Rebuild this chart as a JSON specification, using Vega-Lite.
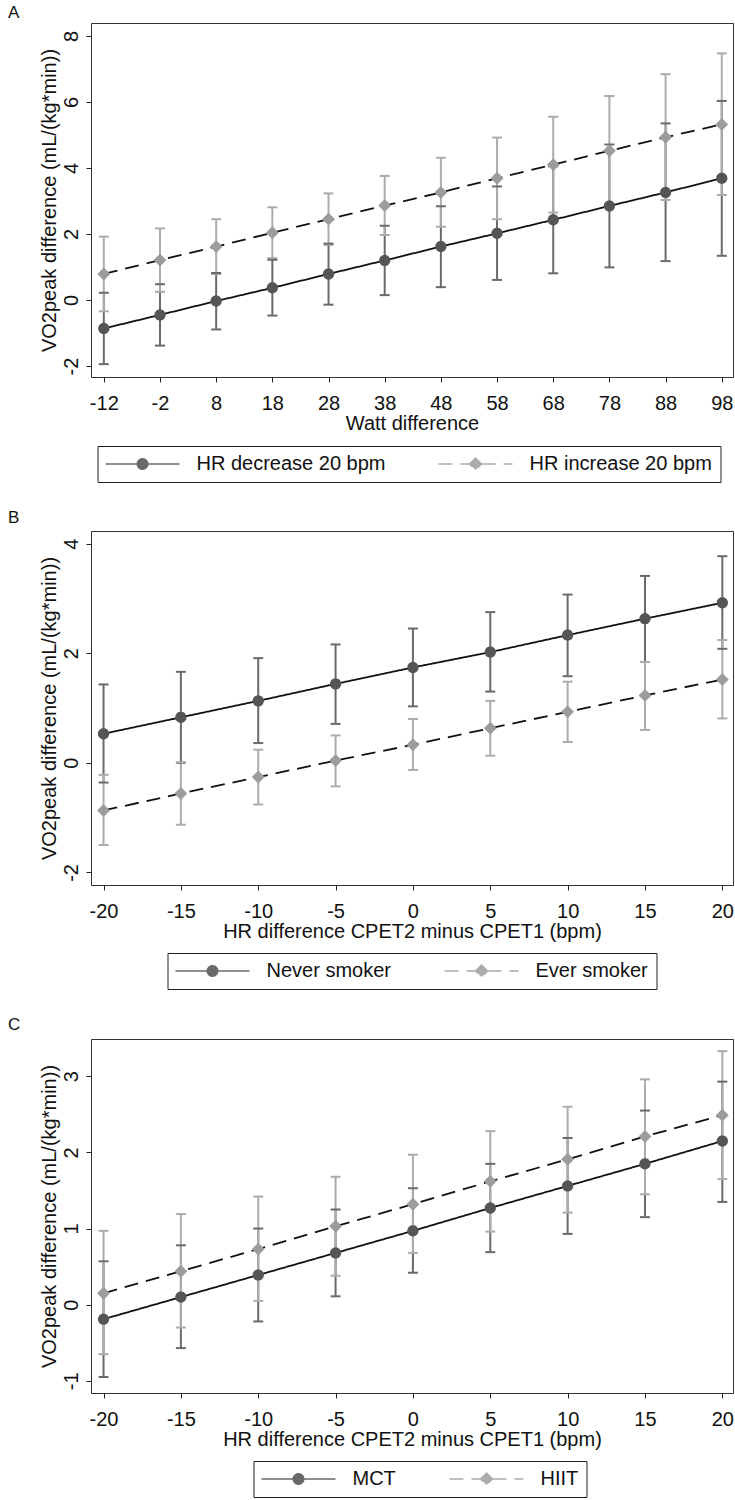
{
  "$schema": "https://vega.github.io/schema/vega-lite/v6.json",
  "background": "white",
  "padding": {"left": 7, "top": 3, "right": 0, "bottom": 0},
  "spacing": 25,
  "resolve": {"scale": {"color": "independent", "fill": "independent", "shape": "independent", "strokeDash": "independent"}, "legend": {"strokeDash": "independent", "color": "independent", "fill": "independent", "shape": "independent"}},
  "datasets": {
    "a": [
      {"series": "HR decrease 20 bpm", "x": -12, "y": -0.86, "lo": -1.94, "hi": 0.22},
      {"series": "HR decrease 20 bpm", "x": -2, "y": -0.45, "lo": -1.38, "hi": 0.48},
      {"series": "HR decrease 20 bpm", "x": 8, "y": -0.03, "lo": -0.89, "hi": 0.82},
      {"series": "HR decrease 20 bpm", "x": 18, "y": 0.37, "lo": -0.47, "hi": 1.22},
      {"series": "HR decrease 20 bpm", "x": 28, "y": 0.79, "lo": -0.14, "hi": 1.71},
      {"series": "HR decrease 20 bpm", "x": 38, "y": 1.20, "lo": 0.15, "hi": 2.25},
      {"series": "HR decrease 20 bpm", "x": 48, "y": 1.62, "lo": 0.39, "hi": 2.84},
      {"series": "HR decrease 20 bpm", "x": 58, "y": 2.02, "lo": 0.61, "hi": 3.44},
      {"series": "HR decrease 20 bpm", "x": 68, "y": 2.43, "lo": 0.81, "hi": 4.05},
      {"series": "HR decrease 20 bpm", "x": 78, "y": 2.85, "lo": 0.99, "hi": 4.71},
      {"series": "HR decrease 20 bpm", "x": 88, "y": 3.26, "lo": 1.18, "hi": 5.35},
      {"series": "HR decrease 20 bpm", "x": 98, "y": 3.69, "lo": 1.34, "hi": 6.03},
      {"series": "HR increase 20 bpm", "x": -12, "y": 0.79, "lo": -0.34, "hi": 1.92},
      {"series": "HR increase 20 bpm", "x": -2, "y": 1.21, "lo": 0.25, "hi": 2.17},
      {"series": "HR increase 20 bpm", "x": 8, "y": 1.62, "lo": 0.79, "hi": 2.45},
      {"series": "HR increase 20 bpm", "x": 18, "y": 2.04, "lo": 1.27, "hi": 2.81},
      {"series": "HR increase 20 bpm", "x": 28, "y": 2.45, "lo": 1.67, "hi": 3.23},
      {"series": "HR increase 20 bpm", "x": 38, "y": 2.86, "lo": 1.97, "hi": 3.76},
      {"series": "HR increase 20 bpm", "x": 48, "y": 3.26, "lo": 2.22, "hi": 4.31},
      {"series": "HR increase 20 bpm", "x": 58, "y": 3.69, "lo": 2.45, "hi": 4.92},
      {"series": "HR increase 20 bpm", "x": 68, "y": 4.10, "lo": 2.65, "hi": 5.55},
      {"series": "HR increase 20 bpm", "x": 78, "y": 4.52, "lo": 2.86, "hi": 6.18},
      {"series": "HR increase 20 bpm", "x": 88, "y": 4.93, "lo": 3.03, "hi": 6.84},
      {"series": "HR increase 20 bpm", "x": 98, "y": 5.32, "lo": 3.18, "hi": 7.47}
    ],
    "b": [
      {"series": "Never smoker", "x": -20, "y": 0.53, "lo": -0.36, "hi": 1.43},
      {"series": "Never smoker", "x": -15, "y": 0.83, "lo": 0.00, "hi": 1.66},
      {"series": "Never smoker", "x": -10, "y": 1.13, "lo": 0.36, "hi": 1.91},
      {"series": "Never smoker", "x": -5, "y": 1.44, "lo": 0.71, "hi": 2.16},
      {"series": "Never smoker", "x": 0, "y": 1.74, "lo": 1.03, "hi": 2.45},
      {"series": "Never smoker", "x": 5, "y": 2.02, "lo": 1.30, "hi": 2.75},
      {"series": "Never smoker", "x": 10, "y": 2.33, "lo": 1.58, "hi": 3.07},
      {"series": "Never smoker", "x": 15, "y": 2.63, "lo": 1.84, "hi": 3.41},
      {"series": "Never smoker", "x": 20, "y": 2.92, "lo": 2.08, "hi": 3.77},
      {"series": "Ever smoker", "x": -20, "y": -0.87, "lo": -1.50, "hi": -0.22},
      {"series": "Ever smoker", "x": -15, "y": -0.56, "lo": -1.13, "hi": 0.01},
      {"series": "Ever smoker", "x": -10, "y": -0.26, "lo": -0.76, "hi": 0.24},
      {"series": "Ever smoker", "x": -5, "y": 0.04, "lo": -0.43, "hi": 0.50},
      {"series": "Ever smoker", "x": 0, "y": 0.33, "lo": -0.13, "hi": 0.80},
      {"series": "Ever smoker", "x": 5, "y": 0.63, "lo": 0.13, "hi": 1.13},
      {"series": "Ever smoker", "x": 10, "y": 0.93, "lo": 0.38, "hi": 1.48},
      {"series": "Ever smoker", "x": 15, "y": 1.23, "lo": 0.60, "hi": 1.84},
      {"series": "Ever smoker", "x": 20, "y": 1.52, "lo": 0.81, "hi": 2.24}
    ],
    "c": [
      {"series": "MCT", "x": -20, "y": -0.19, "lo": -0.95, "hi": 0.57},
      {"series": "MCT", "x": -15, "y": 0.10, "lo": -0.57, "hi": 0.78},
      {"series": "MCT", "x": -10, "y": 0.39, "lo": -0.22, "hi": 1.00},
      {"series": "MCT", "x": -5, "y": 0.68, "lo": 0.11, "hi": 1.25},
      {"series": "MCT", "x": 0, "y": 0.97, "lo": 0.42, "hi": 1.53},
      {"series": "MCT", "x": 5, "y": 1.27, "lo": 0.69, "hi": 1.85},
      {"series": "MCT", "x": 10, "y": 1.56, "lo": 0.93, "hi": 2.19},
      {"series": "MCT", "x": 15, "y": 1.85, "lo": 1.15, "hi": 2.55},
      {"series": "MCT", "x": 20, "y": 2.15, "lo": 1.35, "hi": 2.93},
      {"series": "HIIT", "x": -20, "y": 0.15, "lo": -0.65, "hi": 0.97},
      {"series": "HIIT", "x": -15, "y": 0.44, "lo": -0.30, "hi": 1.19},
      {"series": "HIIT", "x": -10, "y": 0.73, "lo": 0.05, "hi": 1.42},
      {"series": "HIIT", "x": -5, "y": 1.03, "lo": 0.38, "hi": 1.68},
      {"series": "HIIT", "x": 0, "y": 1.32, "lo": 0.68, "hi": 1.97},
      {"series": "HIIT", "x": 5, "y": 1.62, "lo": 0.96, "hi": 2.28},
      {"series": "HIIT", "x": 10, "y": 1.91, "lo": 1.21, "hi": 2.60},
      {"series": "HIIT", "x": 15, "y": 2.21, "lo": 1.45, "hi": 2.96},
      {"series": "HIIT", "x": 20, "y": 2.49, "lo": 1.65, "hi": 3.33}
    ]
  },
  "config": {
    "font": "Liberation Sans",
    "view": {"stroke": "#333333", "strokeWidth": 1},
    "title": {"anchor": "start", "frame": "bounds", "fontSize": 17, "fontWeight": "normal", "font": "Liberation Sans", "color": "#111111"},
    "axis": {"grid": false, "domain": false, "ticks": true, "tickSize": 5, "tickColor": "#222222", "tickWidth": 1, "labelFontSize": 20, "labelColor": "#111111", "titleFontSize": 20, "titleFontWeight": "normal", "titleColor": "#111111", "labelFont": "Liberation Sans", "titleFont": "Liberation Sans", "labelOverlap": false, "labelExpr": "toString(datum.value)"},
    "axisX": {"labelPadding": 11, "titlePadding": 0, "labelFlush": false},
    "axisY": {"labelAngle": -90, "labelAlign": "center", "labelBaseline": "bottom", "labelPadding": 5, "titlePadding": 2},
    "legend": {"orient": "none", "direction": "horizontal", "columns": 2, "labelFontSize": 20, "labelFont": "Liberation Sans", "labelColor": "#111111", "symbolSize": 100, "symbolStrokeWidth": 1.5, "symbolOffset": 27, "labelOffset": 44, "columnPadding": 50, "padding": 8, "strokeColor": "#222222", "labelLimit": 0}
  },
  "vconcat": [
    {
      "title": {"text": "A", "dx": -31, "offset": 1},
      "width": 642, "height": 354,
      "data": {"name": "a"},
      "encoding": {"x": {"field": "x", "type": "quantitative", "scale": {"domain": [-14.28, 100], "nice": false, "zero": false}, "axis": {"values": [-12, -2, 8, 18, 28, 38, 48, 58, 68, 78, 88, 98], "title": "Watt difference"}}},
      "layer": [
        {"mark": {"type": "rule", "strokeWidth": 2},
         "encoding": {"y": {"field": "lo", "type": "quantitative", "title": "VO2peak difference (mL/(kg*min))", "scale": {"domain": [-2.33, 8.39], "nice": false, "zero": false}, "axis": {"values": [-2, 0, 2, 4, 6, 8]}}, "y2": {"field": "hi"},
           "color": {"field": "series", "type": "nominal", "scale": {"domain": ["HR decrease 20 bpm", "HR increase 20 bpm"], "range": ["#6a6a6a", "#acacac"]}, "legend": {"title": null, "orient": "none", "legendX": 6.5, "legendY": 423}}}},
        {"mark": {"type": "tick", "orient": "horizontal", "size": 10, "thickness": 2, "opacity": 1},
         "encoding": {"y": {"field": "lo", "type": "quantitative", "title": "VO2peak difference (mL/(kg*min))", "scale": {"domain": [-2.33, 8.39], "nice": false, "zero": false}},
           "color": {"field": "series", "type": "nominal"}}},
        {"mark": {"type": "tick", "orient": "horizontal", "size": 10, "thickness": 2, "opacity": 1},
         "encoding": {"y": {"field": "hi", "type": "quantitative", "title": "VO2peak difference (mL/(kg*min))", "scale": {"domain": [-2.33, 8.39], "nice": false, "zero": false}},
           "color": {"field": "series", "type": "nominal"}}},
        {"mark": {"type": "line", "color": "#111111", "strokeWidth": 1.8},
         "encoding": {"y": {"field": "y", "type": "quantitative", "title": "VO2peak difference (mL/(kg*min))", "scale": {"domain": [-2.33, 8.39], "nice": false, "zero": false}},
           "strokeDash": {"field": "series", "type": "nominal", "scale": {"domain": ["HR decrease 20 bpm", "HR increase 20 bpm"], "range": [[1, 0], [14, 8]]}, "legend": {"title": null, "orient": "none", "legendX": 6.5, "legendY": 423}}}},
        {"mark": {"type": "point", "filled": true, "opacity": 1, "strokeWidth": 0, "size": 115},
         "encoding": {"y": {"field": "y", "type": "quantitative", "title": "VO2peak difference (mL/(kg*min))", "scale": {"domain": [-2.33, 8.39], "nice": false, "zero": false}},
           "fill": {"field": "series", "type": "nominal", "scale": {"domain": ["HR decrease 20 bpm", "HR increase 20 bpm"], "range": ["#555555", "#9c9c9c"]}, "legend": {"title": null, "orient": "none", "legendX": 6.5, "legendY": 423}},
           "shape": {"field": "series", "type": "nominal", "scale": {"domain": ["HR decrease 20 bpm", "HR increase 20 bpm"], "range": ["M-7.4,0H-1.06M1.06,0H7.4M1.06,0L0.979,0.406L0.75,0.75L0.406,0.979L0,1.06L-0.406,0.979L-0.75,0.75L-0.979,0.406L-1.06,0L-0.979,-0.406L-0.75,-0.75L-0.406,-0.979L0,-1.06L0.406,-0.979L0.75,-0.75L0.979,-0.406Z", "M-7.4,0H-1.2M1.2,0H7.4M0,-1.2L1.2,0L0,1.2L-1.2,0Z"]}, "legend": {"title": null, "orient": "none", "legendX": 6.5, "legendY": 423}}}}
      ]
    },
    {
      "title": {"text": "B", "dx": -31, "offset": 4},
      "width": 642, "height": 354,
      "data": {"name": "b"},
      "encoding": {"x": {"field": "x", "type": "quantitative", "scale": {"domain": [-20.81, 20.69], "nice": false, "zero": false}, "axis": {"values": [-20, -15, -10, -5, 0, 5, 10, 15, 20], "title": "HR difference CPET2 minus CPET1 (bpm)"}}},
      "layer": [
        {"mark": {"type": "rule", "strokeWidth": 2},
         "encoding": {"y": {"field": "lo", "type": "quantitative", "title": "VO2peak difference (mL/(kg*min))", "scale": {"domain": [-2.23, 4.23], "nice": false, "zero": false}, "axis": {"values": [-2, 0, 2, 4]}}, "y2": {"field": "hi"},
           "color": {"field": "series", "type": "nominal", "scale": {"domain": ["Never smoker", "Ever smoker"], "range": ["#6a6a6a", "#acacac"]}, "legend": {"title": null, "orient": "none", "legendX": 76.5, "legendY": 422}}}},
        {"mark": {"type": "tick", "orient": "horizontal", "size": 10, "thickness": 2, "opacity": 1},
         "encoding": {"y": {"field": "lo", "type": "quantitative", "title": "VO2peak difference (mL/(kg*min))", "scale": {"domain": [-2.23, 4.23], "nice": false, "zero": false}},
           "color": {"field": "series", "type": "nominal"}}},
        {"mark": {"type": "tick", "orient": "horizontal", "size": 10, "thickness": 2, "opacity": 1},
         "encoding": {"y": {"field": "hi", "type": "quantitative", "title": "VO2peak difference (mL/(kg*min))", "scale": {"domain": [-2.23, 4.23], "nice": false, "zero": false}},
           "color": {"field": "series", "type": "nominal"}}},
        {"mark": {"type": "line", "color": "#111111", "strokeWidth": 1.8},
         "encoding": {"y": {"field": "y", "type": "quantitative", "title": "VO2peak difference (mL/(kg*min))", "scale": {"domain": [-2.23, 4.23], "nice": false, "zero": false}},
           "strokeDash": {"field": "series", "type": "nominal", "scale": {"domain": ["Never smoker", "Ever smoker"], "range": [[1, 0], [14, 8]]}, "legend": {"title": null, "orient": "none", "legendX": 76.5, "legendY": 422}}}},
        {"mark": {"type": "point", "filled": true, "opacity": 1, "strokeWidth": 0, "size": 115},
         "encoding": {"y": {"field": "y", "type": "quantitative", "title": "VO2peak difference (mL/(kg*min))", "scale": {"domain": [-2.23, 4.23], "nice": false, "zero": false}},
           "fill": {"field": "series", "type": "nominal", "scale": {"domain": ["Never smoker", "Ever smoker"], "range": ["#555555", "#9c9c9c"]}, "legend": {"title": null, "orient": "none", "legendX": 76.5, "legendY": 422}},
           "shape": {"field": "series", "type": "nominal", "scale": {"domain": ["Never smoker", "Ever smoker"], "range": ["M-7.4,0H-1.06M1.06,0H7.4M1.06,0L0.979,0.406L0.75,0.75L0.406,0.979L0,1.06L-0.406,0.979L-0.75,0.75L-0.979,0.406L-1.06,0L-0.979,-0.406L-0.75,-0.75L-0.406,-0.979L0,-1.06L0.406,-0.979L0.75,-0.75L0.979,-0.406Z", "M-7.4,0H-1.2M1.2,0H7.4M0,-1.2L1.2,0L0,1.2L-1.2,0Z"]}, "legend": {"title": null, "orient": "none", "legendX": 76.5, "legendY": 422}}}}
      ]
    },
    {
      "title": {"text": "C", "dx": -31, "offset": 5},
      "width": 642, "height": 354,
      "data": {"name": "c"},
      "encoding": {"x": {"field": "x", "type": "quantitative", "scale": {"domain": [-20.81, 20.69], "nice": false, "zero": false}, "axis": {"values": [-20, -15, -10, -5, 0, 5, 10, 15, 20], "title": "HR difference CPET2 minus CPET1 (bpm)"}}},
      "layer": [
        {"mark": {"type": "rule", "strokeWidth": 2},
         "encoding": {"y": {"field": "lo", "type": "quantitative", "title": "VO2peak difference (mL/(kg*min))", "scale": {"domain": [-1.16, 3.49], "nice": false, "zero": false}, "axis": {"values": [-1, 0, 1, 2, 3]}}, "y2": {"field": "hi"},
           "color": {"field": "series", "type": "nominal", "scale": {"domain": ["MCT", "HIIT"], "range": ["#6a6a6a", "#acacac"]}, "legend": {"title": null, "orient": "none", "legendX": 162.5, "legendY": 422}}}},
        {"mark": {"type": "tick", "orient": "horizontal", "size": 10, "thickness": 2, "opacity": 1},
         "encoding": {"y": {"field": "lo", "type": "quantitative", "title": "VO2peak difference (mL/(kg*min))", "scale": {"domain": [-1.16, 3.49], "nice": false, "zero": false}},
           "color": {"field": "series", "type": "nominal"}}},
        {"mark": {"type": "tick", "orient": "horizontal", "size": 10, "thickness": 2, "opacity": 1},
         "encoding": {"y": {"field": "hi", "type": "quantitative", "title": "VO2peak difference (mL/(kg*min))", "scale": {"domain": [-1.16, 3.49], "nice": false, "zero": false}},
           "color": {"field": "series", "type": "nominal"}}},
        {"mark": {"type": "line", "color": "#111111", "strokeWidth": 1.8},
         "encoding": {"y": {"field": "y", "type": "quantitative", "title": "VO2peak difference (mL/(kg*min))", "scale": {"domain": [-1.16, 3.49], "nice": false, "zero": false}},
           "strokeDash": {"field": "series", "type": "nominal", "scale": {"domain": ["MCT", "HIIT"], "range": [[1, 0], [14, 8]]}, "legend": {"title": null, "orient": "none", "legendX": 162.5, "legendY": 422}}}},
        {"mark": {"type": "point", "filled": true, "opacity": 1, "strokeWidth": 0, "size": 115},
         "encoding": {"y": {"field": "y", "type": "quantitative", "title": "VO2peak difference (mL/(kg*min))", "scale": {"domain": [-1.16, 3.49], "nice": false, "zero": false}},
           "fill": {"field": "series", "type": "nominal", "scale": {"domain": ["MCT", "HIIT"], "range": ["#555555", "#9c9c9c"]}, "legend": {"title": null, "orient": "none", "legendX": 162.5, "legendY": 422}},
           "shape": {"field": "series", "type": "nominal", "scale": {"domain": ["MCT", "HIIT"], "range": ["M-7.4,0H-1.06M1.06,0H7.4M1.06,0L0.979,0.406L0.75,0.75L0.406,0.979L0,1.06L-0.406,0.979L-0.75,0.75L-0.979,0.406L-1.06,0L-0.979,-0.406L-0.75,-0.75L-0.406,-0.979L0,-1.06L0.406,-0.979L0.75,-0.75L0.979,-0.406Z", "M-7.4,0H-1.2M1.2,0H7.4M0,-1.2L1.2,0L0,1.2L-1.2,0Z"]}, "legend": {"title": null, "orient": "none", "legendX": 162.5, "legendY": 422}}}}
      ]
    }
  ]
}
